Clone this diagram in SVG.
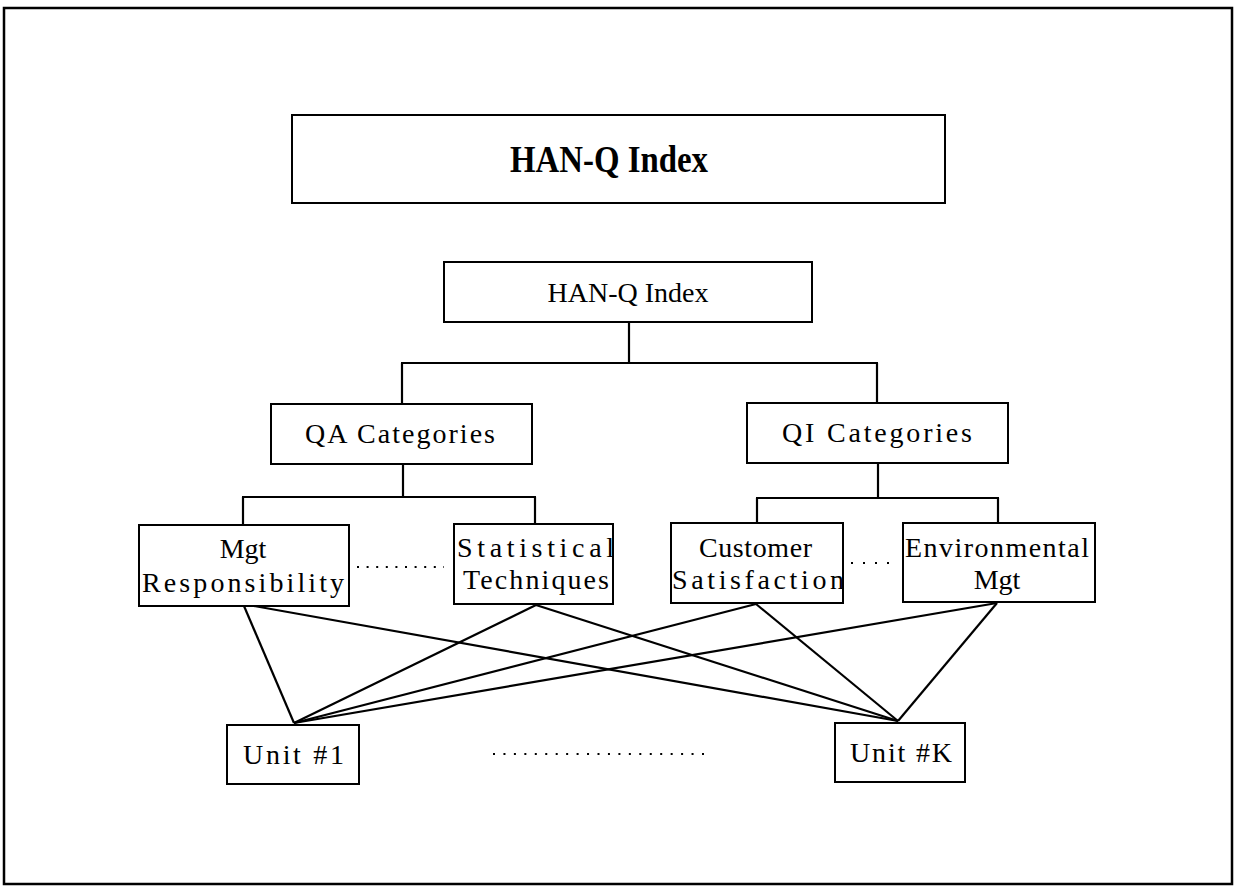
<svg xmlns="http://www.w3.org/2000/svg" width="1235" height="888" viewBox="0 0 1235 888">
<style>
.box{fill:#fff;stroke:#000;stroke-width:2}
.t{font-family:"Liberation Serif","Times New Roman",serif;font-size:28px;fill:#000}
.m{text-anchor:middle}
.title{font-family:"Liberation Serif","Times New Roman",serif;font-size:37px;font-weight:bold;fill:#000}
.c line{stroke:#000;stroke-width:2.2}
.dot{stroke:#000;stroke-width:2.2}
</style>
<rect x="0" y="0" width="1235" height="888" fill="#fff"/>
<rect x="4" y="8" width="1228" height="876" fill="none" stroke="#000" stroke-width="2.5"/>
<g id="title">
<rect class="box" x="292" y="115" width="653" height="88"/>
<text class="title" x="510" y="172" textLength="198" lengthAdjust="spacingAndGlyphs">HAN-Q Index</text>
</g>
<g class="c" id="connectors">
<line x1="629" y1="322" x2="629" y2="363"/>
<line x1="401" y1="363" x2="878" y2="363"/>
<line x1="402" y1="363" x2="402" y2="404"/>
<line x1="877" y1="363" x2="877" y2="403"/>
<line x1="403" y1="464" x2="403" y2="497"/>
<line x1="242" y1="497" x2="536" y2="497"/>
<line x1="243" y1="497" x2="243" y2="525"/>
<line x1="535" y1="497" x2="535" y2="524"/>
<line x1="878" y1="463" x2="878" y2="498"/>
<line x1="756" y1="498" x2="999" y2="498"/>
<line x1="757" y1="498" x2="757" y2="523"/>
<line x1="998" y1="498" x2="998" y2="523"/>
<line x1="244" y1="606" x2="294" y2="723"/>
<line x1="254" y1="606" x2="898" y2="721"/>
<line x1="536" y1="605" x2="294" y2="723"/>
<line x1="536" y1="605" x2="898" y2="721"/>
<line x1="756" y1="604" x2="294" y2="723"/>
<line x1="756" y1="604" x2="898" y2="721"/>
<line x1="997" y1="603" x2="294" y2="723"/>
<line x1="997" y1="603" x2="898" y2="721"/>
<line class="dot" x1="357" y1="567" x2="444" y2="567" stroke-dasharray="2 7.6"/>
<line class="dot" x1="851" y1="563" x2="891" y2="563" stroke-dasharray="2 10"/>
<line class="dot" x1="493" y1="754" x2="704" y2="754" stroke-dasharray="2 8.45"/>
</g>
<g id="root">
<rect class="box" x="444" y="262" width="368" height="60"/>
<text class="t m" x="628" y="302">HAN-Q Index</text>
</g>
<g id="qa">
<rect class="box" x="271" y="404" width="261" height="60"/>
<text class="t" x="305" y="443" textLength="190" lengthAdjust="spacing">QA Categories</text>
</g>
<g id="qi">
<rect class="box" x="747" y="403" width="261" height="60"/>
<text class="t" x="782" y="442" textLength="190" lengthAdjust="spacing">QI Categories</text>
</g>
<g id="mgt">
<rect class="box" x="139" y="525" width="210" height="81"/>
<text class="t m" x="243" y="558">Mgt</text>
<text class="t" x="142" y="592" textLength="202" lengthAdjust="spacing">Responsibility</text>
</g>
<g id="stat">
<rect class="box" x="454" y="524" width="159" height="80"/>
<text class="t" x="457" y="557" textLength="157" lengthAdjust="spacing">Statistical</text>
<text class="t" x="463" y="589" textLength="146" lengthAdjust="spacing">Techniques</text>
</g>
<g id="cust">
<rect class="box" x="671" y="523" width="172" height="80"/>
<text class="t" x="699" y="557" textLength="113" lengthAdjust="spacing">Customer</text>
<text class="t" x="672" y="589" textLength="172" lengthAdjust="spacing">Satisfaction</text>
</g>
<g id="env">
<rect class="box" x="903" y="523" width="192" height="79"/>
<text class="t" x="905" y="557" textLength="184" lengthAdjust="spacing">Environmental</text>
<text class="t m" x="997" y="589">Mgt</text>
</g>
<g id="unit1">
<rect class="box" x="227" y="725" width="132" height="59"/>
<text class="t" x="243" y="764" textLength="101" lengthAdjust="spacing">Unit #1</text>
</g>
<g id="unitk">
<rect class="box" x="835" y="723" width="130" height="59"/>
<text class="t" x="850" y="762" textLength="102" lengthAdjust="spacing">Unit #K</text>
</g>
</svg>
